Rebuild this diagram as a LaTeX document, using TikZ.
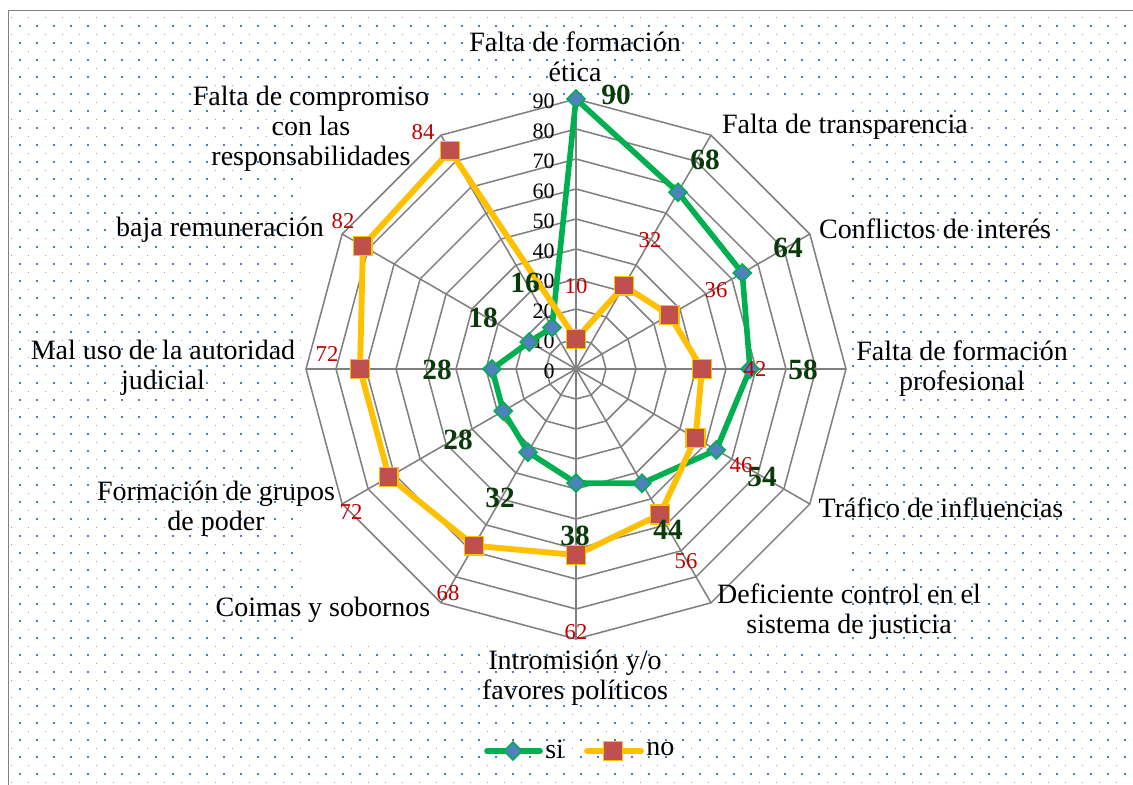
\documentclass[tikz,border=0pt]{standalone}
\usepackage{fontspec}
\setmainfont{Liberation Serif}
\usepackage{tikz}
\usepackage{xcolor}
\usetikzlibrary{shapes.geometric}

\definecolor{siGreen}{HTML}{00B050}
\definecolor{noYellow}{HTML}{FFC000}
\definecolor{diamBlue}{HTML}{4F81BD}
\definecolor{sqRed}{HTML}{C0504D}
\definecolor{valGreen}{HTML}{0A3A0A}
\definecolor{valRed}{HTML}{C00000}
\definecolor{gridGray}{HTML}{808080}
\definecolor{dotBlue}{HTML}{4A7CC8}

\tikzset{
  catlab/.style={font=\fontsize{21}{22.5}\selectfont, align=center, inner sep=0pt},
  silab/.style={font=\fontsize{22}{24}\selectfont\bfseries, text=valGreen, inner sep=0pt},
  nolab/.style={font=\fontsize{17}{18}\selectfont, text=valRed, inner sep=0pt},
  ticklab/.style={font=\fontsize{16.5}{18}\selectfont, anchor=east, inner sep=0pt},
  simark/.style={diamond, draw=siGreen, fill=diamBlue, line width=1.2pt,
    minimum width=14pt, minimum height=14pt, inner sep=0pt},
  nomark/.style={rectangle, draw=noYellow, fill=sqRed, line width=1.2pt,
    minimum size=14pt, inner sep=0pt},
  siline/.style={draw=siGreen, line width=4.2pt, line join=round},
  noline/.style={draw=noYellow, line width=4.4pt, line join=round},
  gridline/.style={draw=gridGray, line width=1.15pt}
}

\begin{document}
\begin{tikzpicture}[x=0.75pt, y=-0.75pt]
\useasboundingbox (0,0) rectangle (1133,785);

% dotted background
\foreach \i in {0,...,66}{
  \foreach \j in {0,...,45}{
    \fill[dotBlue] (19+17*\i,24.7+17*\j) rectangle ++(2.2,2.2);
    \fill[dotBlue!70] (11+17*\i,16.6+17*\j) rectangle ++(1.4,1.4);
  }
}
% frame
\draw[gray, line width=1.2pt] (8.5,785) -- (8.5,10.5) -- (1133,10.5);

% plot area
\fill[white] (305,97) rectangle (848,642);

\begin{scope}[shift={(576,369)}]
  % rings and spokes
  \foreach \r in {1,...,9}{
    \draw[gridline] (-90:\r*30) \foreach \a in {-60,-30,...,240}{ -- (\a:\r*30)} -- cycle;
  }
  \foreach \a in {-90,-60,...,240}{
    \draw[gridline] (0,0) -- (\a:270);
  }
  % axis numbers
  \foreach \t in {0,...,9}{
    \node[ticklab] (tick\t) at (-21,-\t*30+2.5) {\the\numexpr\t*10\relax};
  }
  % data points
  \foreach \k/\s/\n in {0/90/10, 1/68/32, 2/64/36, 3/58/42, 4/54/46, 5/44/56,
      6/38/62, 7/32/68, 8/28/72, 9/28/72, 10/18/82, 11/16/84}{
    \coordinate (si\k) at ({-90+30*\k}:{\s*3});
    \coordinate (no\k) at ({-90+30*\k}:{\n*3});
  }
\end{scope}

% series si
\draw[siline] (si0) \foreach \k in {1,...,11}{ -- (si\k)} -- cycle;
\foreach \k in {0,...,11}{
  \node[simark] (sim\k) at (si\k) {};
}
% series no
\draw[noline] (no0) \foreach \k in {1,...,11}{ -- (no\k)} -- cycle;
\foreach \k in {0,...,11}{
  \node[nomark] (nom\k) at (no\k) {};
}

% category labels
\node[catlab] (lab0) at (575,57) {Falta de formación\\ética};
\node[catlab] (lab1) at (845,127) {Falta de transparencia};
\node[catlab] (lab2) at (935,229) {Conflictos de interés};
\node[catlab] (lab3) at (962,369) {Falta de formación\\profesional};
\node[catlab] (lab4) at (941,508) {Tráfico de influencias};
\node[catlab] (lab5) at (849,612) {Deficiente control en el\\sistema de justicia};
\node[catlab] (lab6) at (575,678) {Intromisión y/o\\favores políticos};
\node[catlab] (lab7) at (323,610) {Coimas y sobornos};
\node[catlab] (lab8) at (216,509) {Formación de grupos\\de poder};
\node[catlab] (lab9) at (163,368) {Mal uso de la autoridad\\judicial};
\node[catlab] (lab10) at (220,230) {baja remuneración};
\node[catlab] (lab11) at (311,129) {Falta de compromiso\\con las\\responsabilidades};

% value labels si
\node[silab] (sv0) at (616,95) {90};
\node[silab] (sv1) at (705,160) {68};
\node[silab] (sv2) at (788,248) {64};
\node[silab] (sv3) at (803,370) {58};
\node[silab] (sv4) at (762,477) {54};
\node[silab] (sv5) at (668,530) {44};
\node[silab] (sv6) at (575,536) {38};
\node[silab] (sv7) at (500,498) {32};
\node[silab] (sv8) at (458,440) {28};
\node[silab] (sv9) at (437,370) {28};
\node[silab] (sv10) at (483,318) {18};
\node[silab] (sv11) at (525,283) {16};

% value labels no
\node[nolab] (nv0) at (576,286) {10};
\node[nolab] (nv1) at (650,240) {32};
\node[nolab] (nv2) at (716,290) {36};
\node[nolab] (nv3) at (755,369) {42};
\node[nolab] (nv4) at (741,465) {46};
\node[nolab] (nv5) at (686,561) {56};
\node[nolab] (nv6) at (576,632) {62};
\node[nolab] (nv7) at (448,593) {68};
\node[nolab] (nv8) at (351,512) {72};
\node[nolab] (nv9) at (327,354) {72};
\node[nolab] (nv10) at (343,221) {82};
\node[nolab] (nv11) at (423,132) {84};

% legend
\coordinate (legsiA) at (487,751);
\coordinate (legsiB) at (540,751);
\coordinate (legnoA) at (587,751);
\coordinate (legnoB) at (641,751);
\draw[siline, line cap=round] (legsiA) -- (legsiB);
\node[simark] (legsi) at (513,751) {};
\node[catlab, anchor=west] (legsitxt) at (545,749) {si};
\draw[noline, line cap=round] (legnoA) -- (legnoB);
\node[nomark] (legno) at (613,751) {};
\node[catlab, anchor=west] (legnotxt) at (646,749) {no};
\end{tikzpicture}
\end{document}
